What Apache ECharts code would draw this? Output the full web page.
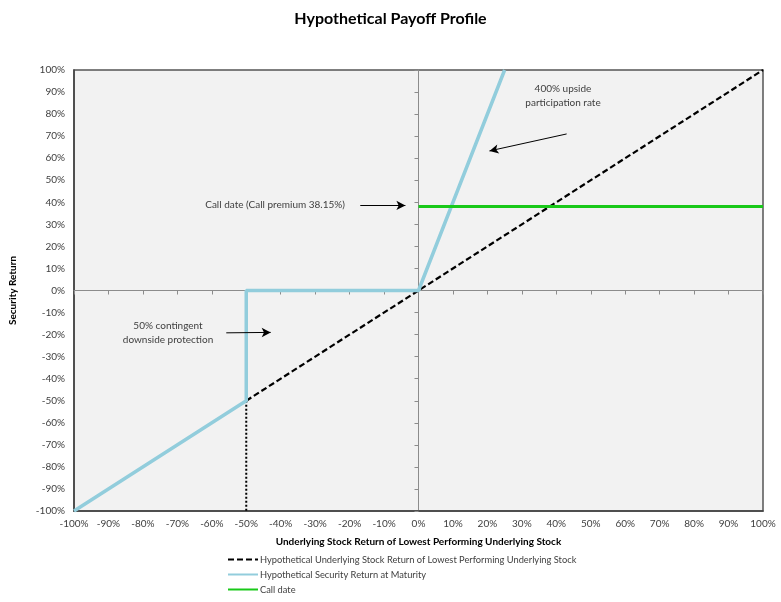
<!DOCTYPE html>
<html>
<head>
<meta charset="utf-8">
<title>Hypothetical Payoff Profile</title>
<script src="https://cdn.jsdelivr.net/npm/echarts@6/dist/echarts.min.js"></script>
<style>
  html, body { margin: 0; padding: 0; background: #fff; }
  #chart { width: 781px; height: 602px; }
</style>
</head>
<body>
<div id="chart"></div>
<script>
// data (percent)
var stockLine = [[-50, -50], [100, 100]];
var stockDrop = [[-50, -50], [-50, -100]];
var securityLine = [[-100, -100], [-50, -50], [-50, 0], [0, 0], [25, 100]];
var callPremium = 38.15;
var callLine = [[0, callPremium], [100, callPremium]];
var seriesNames = [
  'Hypothetical Underlying Stock Return of Lowest Performing Underlying Stock',
  'Hypothetical Security Return at Maturity',
  'Call date'
];
// annotation arrows, in axis units
var arrowUpside = [[43, 71], [20.6, 63.3]];
var arrowCall = [[-16.9, 38.6], [-3.8, 38.6]];
var arrowDown = [[-55.8, -19.2], [-42.9, -19.0]];

var font = 'Lato, "Open Sans", sans-serif';
var txt = '#404040';

function arrow(pts) {
  return [{ coord: pts[0] }, { coord: pts[1] }];
}
function note(x, y, s, align) {
  return {
    type: 'text', x: x, y: y, silent: true,
    style: { text: s, fontFamily: font, fontSize: 10, fill: txt, align: align || 'center', verticalAlign: 'middle' }
  };
}

var chart = echarts.init(document.getElementById('chart'));
chart.setOption({
  animation: false,
  title: {
    text: 'Hypothetical Payoff Profile',
    left: 'center', top: 6,
    textStyle: { fontFamily: font, fontSize: 16, fontWeight: 'bold', color: '#000' }
  },
  grid: {
    left: 69, right: 18, top: 70, bottom: 91,
    show: true, backgroundColor: '#f2f2f2', borderColor: '#555', borderWidth: 1.5
  },
  legend: {
    orient: 'vertical', left: 227, top: 555, padding: 0, itemGap: 6,
    itemWidth: 30, itemHeight: 10,
    data: seriesNames,
    itemStyle: { opacity: 0 },
    textStyle: { fontFamily: font, fontSize: 9.3, color: txt, padding: [0, 0, 0, -3] }
  },
  xAxis: [{
    type: 'value', min: -100, max: 100, interval: 10, position: 'bottom',
    axisLine: { onZero: false, lineStyle: { color: '#404040', width: 1.5 } },
    axisTick: { show: false }, splitLine: { show: false },
    axisLabel: { formatter: '{value}%', fontFamily: font, fontSize: 10, color: txt, margin: 8 },
    name: 'Underlying Stock Return of Lowest Performing Underlying Stock',
    nameLocation: 'middle', nameGap: 26,
    nameTextStyle: { fontFamily: font, fontSize: 10, fontWeight: 'bold', color: '#000' }
  }, {
    type: 'value', min: -100, max: 100, interval: 10,
    axisLine: { onZero: true, lineStyle: { color: '#8c8c8c', width: 1 } },
    axisTick: { show: true, inside: true, length: 4, lineStyle: { color: '#8c8c8c' } },
    axisLabel: { show: false }, splitLine: { show: false }
  }],
  yAxis: [{
    type: 'value', min: -100, max: 100, interval: 10, position: 'left',
    axisLine: { show: true, onZero: false, lineStyle: { color: '#404040', width: 1.5 } },
    axisTick: { show: false }, splitLine: { show: false },
    axisLabel: { formatter: '{value}%', fontFamily: font, fontSize: 10, color: txt, margin: 9 },
    name: 'Security Return', nameLocation: 'middle', nameGap: 56, nameRotate: 90,
    nameTextStyle: { fontFamily: font, fontSize: 10, fontWeight: 'bold', color: '#000' }
  }, {
    type: 'value', min: -100, max: 100, interval: 10,
    axisLine: { show: true, onZero: true, lineStyle: { color: '#8c8c8c', width: 1 } },
    axisTick: { show: true, inside: true, length: 4, lineStyle: { color: '#8c8c8c' } },
    axisLabel: { show: false }, splitLine: { show: false }
  }],
  series: [{
    name: seriesNames[0], type: 'line', data: stockLine, symbol: 'none', z: 3,
    lineStyle: { color: '#000', width: 2.2, type: [6, 3] }, itemStyle: { color: '#000' }
  }, {
    name: 'drop', type: 'line', data: stockDrop, symbol: 'none', z: 2,
    lineStyle: { color: '#000', width: 2, type: [2, 2] }
  }, {
    name: seriesNames[1], type: 'line', data: securityLine, symbol: 'none', z: 4,
    lineStyle: { color: '#92cddc', width: 3.5 }, itemStyle: { color: '#92cddc' }
  }, {
    name: seriesNames[2], type: 'line', data: callLine, symbol: 'none', z: 4,
    lineStyle: { color: '#19c919', width: 3 }, itemStyle: { color: '#19c919' },
    markLine: {
      silent: true, symbol: ['none', 'arrow'], symbolSize: [7, 9],
      label: { show: false },
      lineStyle: { color: '#000', width: 1, type: 'solid' },
      data: [arrow(arrowUpside), arrow(arrowCall), arrow(arrowDown)]
    }
  }],
  graphic: [
    note(563, 89, '400% upside'),
    note(563, 103, 'participation rate'),
    note(345, 205, 'Call date (Call premium 38.15%)', 'right'),
    note(168, 326, '50% contingent'),
    note(168, 340, 'downside protection')
  ]
});
</script>
</body>
</html>
